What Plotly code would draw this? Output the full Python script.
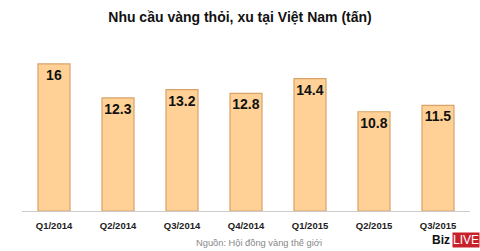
import plotly.graph_objects as go

categories = ["Q1/2014", "Q2/2014", "Q3/2014", "Q4/2014", "Q1/2015", "Q2/2015", "Q3/2015"]
values = [16, 12.3, 13.2, 12.8, 14.4, 10.8, 11.5]
labels = ["16", "12.3", "13.2", "12.8", "14.4", "10.8", "11.5"]

FONT = "Liberation Sans, Arial, sans-serif"

fig = go.Figure()
fig.add_trace(go.Bar(
    x=categories, y=values, text=labels,
    textposition="inside", insidetextanchor="end", textangle=0,
    constraintext="none",
    textfont=dict(family=FONT, size=14, color="#111111"),
    texttemplate="<b>%{text}</b>",
    marker=dict(color="#FFD196", line=dict(color="#D9A268", width=1.2)),
    hoverinfo="skip",
))

fig.update_layout(
    width=480, height=251,
    margin=dict(l=22, r=10, t=60, b=40),
    paper_bgcolor="white", plot_bgcolor="white",
    bargap=0.5,
    showlegend=False,
    title=dict(text="<b>Nhu cầu vàng thỏi, xu tại Việt Nam (tấn)</b>",
               x=0.5, xanchor="center", y=0.93, yanchor="middle",
               font=dict(family=FONT, size=14, color="#111111")),
    xaxis=dict(showgrid=False, showline=True, linecolor="#CCCCCC", linewidth=1,
               ticks="", ticklabelstandoff=6,
               tickfont=dict(family=FONT, size=9.5, color="#222222"),
               tickprefix="<b>", ticksuffix="</b>", fixedrange=True),
    yaxis=dict(range=[0, 16.43], visible=False, fixedrange=True),
)

fig.add_annotation(text="Nguồn: Hội đồng vàng thế giới", xref="paper", yref="paper",
                   x=(259 - 22) / 448, y=(251 - 243 - 40) / 151, xanchor="center", yanchor="middle",
                   showarrow=False,
                   font=dict(family=FONT, size=9.3, color="#888888"))
fig.add_annotation(text="<b>Biz</b>", xref="paper", yref="paper",
                   x=(452 - 22) / 448, y=(251 - 240 - 40) / 151, xanchor="right", yanchor="middle",
                   showarrow=False,
                   font=dict(family=FONT, size=12, color="#111111"))
fig.add_annotation(text="LIVE", xref="paper", yref="paper",
                   x=(452 - 22) / 448, y=(251 - 240 - 40) / 151, xanchor="left", yanchor="middle",
                   showarrow=False, bgcolor="#C8202A", borderpad=0,
                   font=dict(family=FONT, size=12, color="white"))

fig.write_html("out.html", config={"displayModeBar": False})
